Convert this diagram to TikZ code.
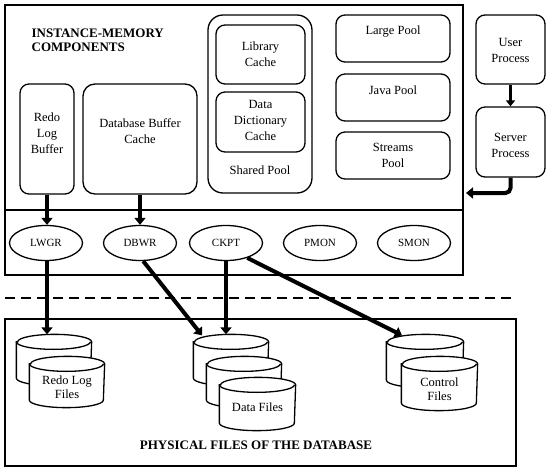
\documentclass[tikz,border=0pt]{standalone}
\usepackage{fontspec}
\setmainfont{Liberation Serif}
\usetikzlibrary{arrows.meta,shapes.geometric,calc}

% disk drum drawn inside the box of node #1, half width #2
\newcommand\drum[2]{%
  \filldraw[fill=white] ($(#1.north west)+(0,7.5)$) -- ($(#1.south west)+(0,-7.5)$)
    arc[start angle=180,end angle=0,x radius=#2,y radius=7.5]
    -- ($(#1.north east)+(0,7.5)$)
    arc[start angle=0,end angle=-180,x radius=#2,y radius=7.5] -- cycle;
  \draw ($(#1.north west)+(0,7.5)$) arc[start angle=180,end angle=0,x radius=#2,y radius=7.5];
}

\begin{document}
\begin{tikzpicture}[x=1pt,y=-1pt,line width=1.3pt,
    box/.style={draw,rounded corners=9pt,inner sep=0pt},
    lbl/.style={align=center,inner sep=1pt,font=\fontsize{12.5}{16}\selectfont},
    disklbl/.style={align=center,inner sep=1pt,font=\fontsize{12.5}{13.5}\selectfont},
    proc/.style={draw,ellipse,minimum width=73pt,minimum height=35pt,inner sep=0pt,font=\fontsize{11}{13}\selectfont},
    disk/.style={minimum width=74pt,minimum height=50pt,inner sep=0pt},
    arr/.style={line width=4pt,-{Triangle[length=7pt,width=11pt]}},
    heading/.style={inner sep=0pt,align=left,font=\fontsize{13}{14}\selectfont\bfseries}]
\useasboundingbox (0,0) rectangle (550,472);

% instance: memory + background processes
\node[draw,line width=1.6pt,minimum width=458pt,minimum height=270pt,inner sep=0pt] (inst) at (234,140) {};
\draw[line width=2pt] (5,210) -- (463,210);
\node[heading,anchor=north west] (insttitle) at (31,28) {INSTANCE-MEMORY\\COMPONENTS};

\node[box,minimum width=54pt,minimum height=110pt] (rlb) at (47,139) {};
\node[lbl] (rlbtxt) at (47,133) {Redo\\Log\\Buffer};
\node[box,minimum width=114pt,minimum height=110pt,rounded corners=12pt] (dbc) at (140,139) {};
\node[lbl] (dbctxt) at (140,131) {Database Buffer\\Cache};

\node[box,minimum width=104pt,minimum height=178pt,rounded corners=15pt] (sp) at (260,104) {};
\node[box,minimum width=89pt,minimum height=59pt] (lc) at (260.5,54.5) {};
\node[lbl] (lctxt) at (260.5,54) {Library\\Cache};
\node[box,minimum width=89pt,minimum height=60pt] (ddc) at (260.5,122) {};
\node[lbl] (ddctxt) at (260.5,120) {Data\\Dictionary\\Cache};
\node[lbl] (sptxt) at (260,170) {Shared Pool};

\node[box,minimum width=114pt,minimum height=47pt] (lp) at (393,38.5) {};
\node[lbl] (lptxt) at (393,32) {Large Pool};
\node[box,minimum width=114pt,minimum height=47pt] (jp) at (393,97.5) {};
\node[lbl] (jptxt) at (393,90) {Java Pool};
\node[box,minimum width=114pt,minimum height=47pt] (stp) at (393,155.5) {};
\node[lbl] (stptxt) at (393,155) {Streams\\Pool};

\node[proc] (lwgr) at (46,243) {LWGR};
\node[proc] (dbwr) at (140,243) {DBWR};
\node[proc] (ckpt) at (226,243) {CKPT};
\node[proc] (pmon) at (320,243) {PMON};
\node[proc] (smon) at (414,243) {SMON};

\draw[arr] (rlb.south) -- (rlb.south |- lwgr.north);
\draw[arr] (dbc.south) -- (dbwr.north);

% user side
\node[box,minimum width=69pt,minimum height=69pt] (up) at (510.5,49.5) {};
\node[lbl] (uptxt) at (510.5,50) {User\\Process};
\node[box,minimum width=69pt,minimum height=70pt] (spr) at (510.5,142) {};
\node[lbl] (sprtxt) at (510.5,145) {Server\\Process};
\coordinate (srvin) at (466,193);
\draw[line width=3pt,-{Triangle[length=6pt,width=9pt]}] (up) -- (spr);
\draw[arr,rounded corners=5pt] (spr.south) |- (srvin);

\draw[line width=2.5pt,dash pattern=on 10pt off 6pt] (5,298) -- (515,298);

% physical files
\node[draw,line width=1.6pt,minimum width=511pt,minimum height=147pt,inner sep=0pt] (files) at (260.5,392.5) {};
\node[heading] (filestitle) at (256,445) {PHYSICAL FILES OF THE DATABASE};

\node[disk] (redoA) at (54,360) {};
\drum{redoA}{37}
\node[disk] (redoB) at (67,382) {};
\drum{redoB}{37}
\node[disklbl] (redotxt) at (67,387) {Redo Log\\Files};

\node[disk] (dataA) at (231,360) {};
\drum{dataA}{37}
\node[disk] (dataB) at (244,382) {};
\drum{dataB}{37}
\node[disk,minimum width=75pt,minimum height=52pt] (dataC) at (257.5,404) {};
\drum{dataC}{37.5}
\node[disklbl] (datatxt) at (257.5,407) {Data Files};

\node[disk,minimum width=76pt,minimum height=52pt] (ctrlA) at (425,361) {};
\drum{ctrlA}{38}
\node[disk,minimum width=75pt,minimum height=53pt] (ctrlB) at (439.5,383.5) {};
\drum{ctrlB}{37.5}
\node[disklbl] (ctrltxt) at (439.5,389) {Control\\Files};

\draw[arr] (lwgr.south -| rlb.south) -- (rlb.south |- redoA.north);
\draw[arr] (dbwr.-80) -- ($(dataA.north)+(-29,1)$);
\draw[arr] (ckpt.south) -- (ckpt.south |- dataA.north);
\draw[arr] (ckpt.-35) -- ($(ctrlA.north)+(-23,1)$);
\end{tikzpicture}
\end{document}
